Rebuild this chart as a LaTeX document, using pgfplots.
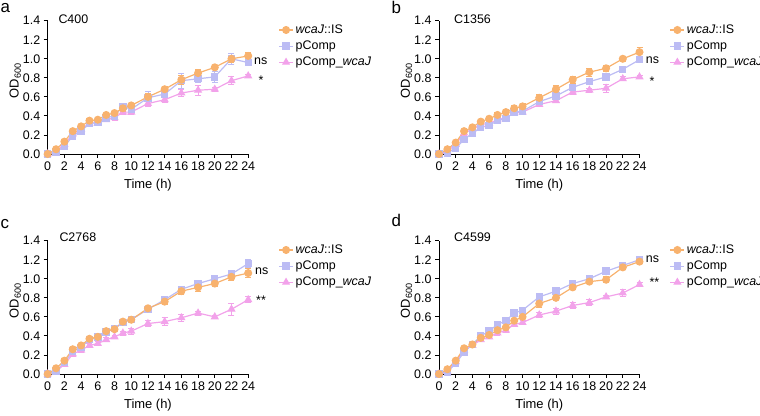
\documentclass[border=0pt]{standalone}
\usepackage{fontspec}
\setmainfont{Liberation Sans}
\usepackage{pgfplots}
\pgfplotsset{compat=1.18}
\usepackage{pgfplotstable}

\definecolor{cOr}{HTML}{F8B26E}
\definecolor{cLa}{HTML}{BCBCF4}
\definecolor{cPk}{HTML}{F2A2EA}

\pgfplotstableread{
t a ae b be c ce
0 0.00 0.005 0.00 0.005 0.00 0.005
1 0.05 0.01 0.02 0.01 0.03 0.01
2 0.13 0.02 0.08 0.02 0.10 0.02
3 0.24 0.02 0.19 0.02 0.21 0.02
4 0.29 0.02 0.24 0.02 0.26 0.02
5 0.35 0.02 0.32 0.02 0.32 0.02
6 0.36 0.02 0.33 0.02 0.33 0.02
7 0.41 0.02 0.38 0.02 0.36 0.02
8 0.43 0.02 0.40 0.02 0.38 0.03
9 0.48 0.03 0.50 0.03 0.44 0.02
10 0.51 0.02 0.47 0.03 0.44 0.02
12 0.60 0.04 0.59 0.07 0.53 0.03
14 0.68 0.03 0.63 0.03 0.57 0.03
16 0.78 0.05 0.77 0.08 0.64 0.04
18 0.85 0.04 0.79 0.04 0.67 0.05
20 0.91 0.02 0.81 0.06 0.68 0.02
22 1.00 0.04 1.00 0.06 0.77 0.04
24 1.03 0.04 0.96 0.03 0.82 0.02
}\dataA

\pgfplotstableread{
t a ae b be c ce
0 0.00 0.005 0.00 0.005 0.00 0.005
1 0.05 0.01 0.01 0.01 0.03 0.01
2 0.12 0.02 0.06 0.01 0.10 0.01
3 0.24 0.02 0.15 0.02 0.22 0.02
4 0.28 0.02 0.22 0.02 0.26 0.02
5 0.34 0.02 0.28 0.02 0.31 0.02
6 0.37 0.02 0.30 0.02 0.32 0.02
7 0.41 0.03 0.35 0.02 0.36 0.02
8 0.44 0.03 0.37 0.02 0.38 0.02
9 0.48 0.03 0.44 0.02 0.43 0.02
10 0.50 0.03 0.45 0.02 0.44 0.02
12 0.59 0.04 0.55 0.02 0.52 0.02
14 0.68 0.04 0.61 0.02 0.56 0.02
16 0.78 0.04 0.70 0.02 0.65 0.02
18 0.86 0.04 0.76 0.02 0.67 0.02
20 0.90 0.03 0.81 0.02 0.69 0.04
22 1.00 0.03 0.89 0.02 0.79 0.02
24 1.07 0.05 0.99 0.02 0.81 0.02
}\dataB

\pgfplotstableread{
t a ae b be c ce
0 0.00 0.005 0.00 0.005 0.00 0.005
1 0.06 0.01 0.03 0.01 0.03 0.01
2 0.14 0.02 0.12 0.02 0.10 0.02
3 0.26 0.02 0.24 0.02 0.21 0.02
4 0.30 0.02 0.28 0.02 0.25 0.02
5 0.37 0.02 0.36 0.02 0.30 0.02
6 0.39 0.02 0.39 0.02 0.32 0.02
7 0.45 0.02 0.44 0.02 0.36 0.02
8 0.47 0.02 0.48 0.02 0.39 0.02
9 0.55 0.02 0.54 0.02 0.43 0.02
10 0.57 0.02 0.57 0.02 0.45 0.03
12 0.69 0.02 0.68 0.03 0.53 0.03
14 0.76 0.03 0.78 0.02 0.55 0.04
16 0.87 0.03 0.89 0.02 0.59 0.04
18 0.91 0.04 0.95 0.02 0.64 0.02
20 0.95 0.03 1.00 0.02 0.60 0.02
22 1.02 0.04 1.05 0.02 0.68 0.06
24 1.06 0.05 1.16 0.04 0.78 0.03
}\dataC

\pgfplotstableread{
t a ae b be c ce
0 0.00 0.005 0.00 0.005 0.00 0.005
1 0.05 0.01 0.02 0.01 0.03 0.01
2 0.14 0.02 0.11 0.02 0.13 0.02
3 0.27 0.02 0.23 0.02 0.25 0.02
4 0.31 0.02 0.31 0.02 0.30 0.02
5 0.38 0.02 0.40 0.02 0.36 0.02
6 0.41 0.02 0.45 0.02 0.39 0.02
7 0.46 0.02 0.52 0.02 0.43 0.02
8 0.49 0.02 0.56 0.02 0.46 0.02
9 0.56 0.02 0.64 0.02 0.52 0.02
10 0.60 0.02 0.67 0.02 0.54 0.02
12 0.74 0.04 0.81 0.02 0.62 0.03
14 0.80 0.02 0.87 0.02 0.66 0.03
16 0.91 0.02 0.95 0.02 0.72 0.03
18 0.97 0.02 1.00 0.02 0.75 0.03
20 0.99 0.03 1.08 0.02 0.81 0.02
22 1.12 0.02 1.14 0.02 0.85 0.04
24 1.18 0.02 1.20 0.02 0.94 0.02
}\dataD

\newcommand{\fs}{\fontsize{12.5}{14}\selectfont}

\pgfplotsset{
  gp/.style={
    scale only axis, width=200.5bp, height=133.3bp,
    anchor=south west,
    xmin=0, xmax=24, ymin=0, ymax=1.4,
    axis x line=bottom, axis y line=left,
    axis line style={-, line width=0.9bp, black},
    xtick={0,2,4,6,8,10,12,14,16,18,20,22,24},
    ytick={0,0.2,0.4,0.6,0.8,1.0,1.2,1.4},
    tick align=outside, major tick length=4bp,
    tick style={line width=0.9bp, black},
    /pgf/number format/assume math mode=true,
    yticklabel style={/pgf/number format/fixed, /pgf/number format/fixed zerofill, /pgf/number format/precision=1},
    ticklabel style={font=\fs},
    xlabel={Time (h)}, ylabel={OD\textsubscript{600}},
    label style={font=\fontsize{13}{15}\selectfont},
    xlabel style={at={(axis description cs:0.5,-0.233)}, anchor=center},
    ylabel style={at={(axis description cs:-0.162,0.55)}, anchor=center},
    clip=false,
    reverse legend,
    legend cell align=left,
    legend style={draw=none, fill=none, inner sep=0pt, font=\fs,
      at={(axis description cs:1.15,0.985)}, anchor=north west, row sep=2bp},
    legend image code/.code={\draw[mark repeat=2, mark phase=2, #1] plot coordinates {(0bp,0bp) (7bp,0bp) (14bp,0bp)};},
  },
  sOr/.style={color=cOr, line width=1.2bp, mark=*, mark size=3.4bp, mark options={solid},
    error bars/.cd, y dir=both, y explicit,
    error bar style={line width=0.8bp}, error mark options={rotate=90, mark size=3bp, line width=0.8bp}},
  sLa/.style={color=cLa, line width=1.2bp, mark=square*, mark size=3.1bp, mark options={solid},
    error bars/.cd, y dir=both, y explicit,
    error bar style={line width=0.8bp}, error mark options={rotate=90, mark size=3bp, line width=0.8bp}},
  sPk/.style={color=cPk, line width=1.2bp, mark=triangle*, mark size=3.6bp, mark options={solid},
    error bars/.cd, y dir=both, y explicit,
    error bar style={line width=0.8bp}, error mark options={rotate=90, mark size=3bp, line width=0.8bp}},
}

\newcommand{\threeplots}[1]{%
  \addplot[sPk] table[x=t, y=c, y error=ce] {#1};
  \addlegendentry{pComp\_\textit{wcaJ}}
  \addplot[sLa] table[x=t, y=b, y error=be] {#1};
  \addlegendentry{pComp}
  \addplot[sOr] table[x=t, y=a, y error=ae] {#1};
  \addlegendentry{\textit{wcaJ}::IS}
}

\begin{document}
\begin{tikzpicture}
\useasboundingbox (0,0) rectangle (760bp,416bp);

\begin{axis}[gp, at={(47.7bp,262bp)}]
\threeplots{\dataA}
\end{axis}
\begin{axis}[gp, at={(439bp,262bp)}]
\threeplots{\dataB}
\end{axis}
\begin{axis}[gp, at={(47.7bp,42bp)}]
\threeplots{\dataC}
\end{axis}
\begin{axis}[gp, at={(439bp,42bp)}]
\threeplots{\dataD}
\end{axis}

% panel letters
\node[anchor=base west, inner sep=0pt, font=\fontsize{17}{19}\selectfont] at (0.5bp,403.3bp) {a};
\node[anchor=base west, inner sep=0pt, font=\fontsize{17}{19}\selectfont] at (391.5bp,402.7bp) {b};
\node[anchor=base west, inner sep=0pt, font=\fontsize{17}{19}\selectfont] at (0.5bp,187.3bp) {c};
\node[anchor=base west, inner sep=0pt, font=\fontsize{17}{19}\selectfont] at (391.5bp,189bp) {d};

% titles
\node[anchor=base west, inner sep=0pt, font=\fs] at (58.3bp,392bp) {C400};
\node[anchor=base west, inner sep=0pt, font=\fs] at (454bp,392bp) {C1356};
\node[anchor=base west, inner sep=0pt, font=\fs] at (59.3bp,174.7bp) {C2768};
\node[anchor=base west, inner sep=0pt, font=\fs] at (454bp,174.7bp) {C4599};

% significance
\node[anchor=base west, inner sep=0pt, font=\fs] at (254bp,351bp) {ns};
\node[anchor=base west, inner sep=0pt, font=\fs] at (258.3bp,331bp) {*};
\node[anchor=base west, inner sep=0pt, font=\fs] at (645.7bp,352bp) {ns};
\node[anchor=base west, inner sep=0pt, font=\fs] at (649.3bp,330bp) {*};
\node[anchor=base west, inner sep=0pt, font=\fs] at (255bp,141.3bp) {ns};
\node[anchor=base west, inner sep=0pt, font=\fs] at (256bp,111.3bp) {**};
\node[anchor=base west, inner sep=0pt, font=\fs] at (645.7bp,153.7bp) {ns};
\node[anchor=base west, inner sep=0pt, font=\fs] at (649.3bp,129bp) {**};
\end{tikzpicture}
\end{document}
